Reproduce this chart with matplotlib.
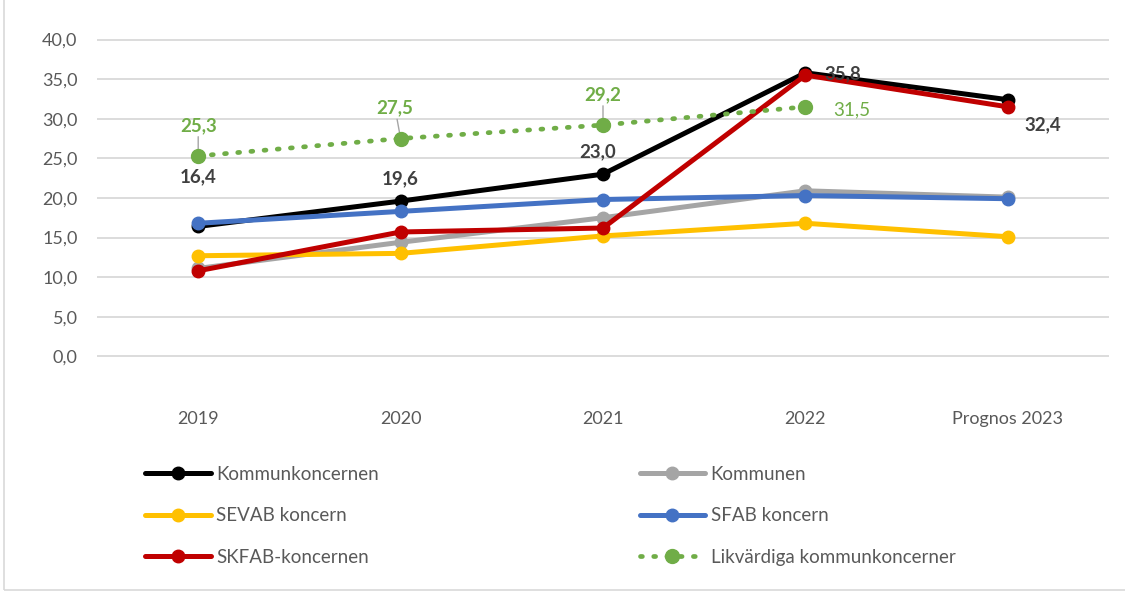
import numpy as np
import matplotlib.pyplot as plt
from matplotlib.patches import Rectangle

plt.rcParams['font.family'] = ['Lato', 'DejaVu Sans']

years = ['2019', '2020', '2021', '2022', 'Prognos 2023']

kommunkoncernen = [16.4, 19.6, 23.0, 35.8, 32.4]
kommunen = [11.1, 14.4, 17.5, 20.9, 20.1]
sevab = [12.7, 13.0, 15.2, 16.8, 15.1]
sfab = [16.8, 18.3, 19.8, 20.3, 19.9]
skfab = [10.8, 15.7, 16.2, 35.5, 31.5]
likvardiga = [25.3, 27.5, 29.2, 31.5]

names = ['Kommunkoncernen', 'Kommunen', 'SEVAB koncern', 'SFAB koncern',
         'SKFAB-koncernen', 'Likvärdiga kommunkoncerner']
colors = ['#000000', '#a5a5a5', '#ffc000', '#4472c4', '#c00000', '#70ad47']

fig = plt.figure(figsize=(11.25, 5.94), dpi=100)
ax = fig.add_axes([97/1125, 1 - 430/594, 1012/1125, (430 - 30)/594])

x = np.arange(len(years))
series = [kommunkoncernen, kommunen, sevab, sfab, skfab]
handles = []
for vals, c, n in zip(series, colors[:5], names[:5]):
    h, = ax.plot(x, vals, color=c, lw=3.6, marker='o', ms=9, label=n,
                 solid_capstyle='round', zorder=3)
    handles.append(h)
h, = ax.plot(x[:len(likvardiga)], likvardiga, color=colors[5], lw=3.4,
             ls=(0, (0.4, 2.4)), dash_capstyle='round', marker='o', ms=10,
             label=names[5], zorder=4)
handles.append(h)

ax.set_xlim(-0.5, 4.5)
ax.set_ylim(-9.3, 41.2)
ax.set_yticks(np.arange(0, 41, 5))
ax.set_yticklabels([f'{v:.1f}'.replace('.', ',') for v in np.arange(0, 41, 5)])
ax.set_xticks(x)
ax.set_xticklabels(years)
ax.tick_params(axis='both', length=0, labelsize=13, colors='#595959')
ax.tick_params(axis='x', pad=-14)
ax.tick_params(axis='y', pad=14)
for v in np.arange(0, 41, 5):
    ax.axhline(v, color='#d9d9d9', lw=1.3, zorder=1)
for s in ax.spines.values():
    s.set_visible(False)

# data labels for Kommunkoncernen
dark = '#404040'
lbl = dict(fontsize=13.5, fontweight='bold', color=dark)
ax.annotate('16,4', (0, 16.4), xytext=(0, 32), textcoords='offset points', ha='center', **lbl)
ax.annotate('19,6', (1, 19.6), xytext=(0, 12), textcoords='offset points', ha='center', **lbl)
ax.annotate('23,0', (2, 23.0), xytext=(-4, 12), textcoords='offset points', ha='center', **lbl)
ax.annotate('35,8', (3, 35.8), xytext=(14, -5), textcoords='offset points', ha='left', **lbl)
ax.annotate('32,4', (4, 32.4), xytext=(12, -22), textcoords='offset points', ha='left', **lbl)

green = '#70ad47'
glbl = dict(fontsize=13.5, fontweight='bold', color=green, ha='center')
ax.annotate('25,3', (0, 25.3), xytext=(0, 18), textcoords='offset points',
            arrowprops=dict(arrowstyle='-', color='#a5a5a5', lw=1, shrinkA=0, shrinkB=4), **glbl)
ax.annotate('27,5', (1, 27.5), xytext=(-4, 18), textcoords='offset points',
            arrowprops=dict(arrowstyle='-', color='#a5a5a5', lw=1, shrinkA=0, shrinkB=4), **glbl)
ax.annotate('29,2', (2, 29.2), xytext=(0, 18), textcoords='offset points',
            arrowprops=dict(arrowstyle='-', color='#a5a5a5', lw=1, shrinkA=0, shrinkB=4), **glbl)
ax.annotate('31,5', (3, 31.5), xytext=(20, -6), textcoords='offset points',
            fontsize=13.5, color=green, ha='left')

order = [0, 2, 4, 1, 3, 5]
fig.legend([handles[i] for i in order], [names[i] for i in order],
           loc='upper left', bbox_to_anchor=(128/1125, 1 - 449/594), ncol=2,
           frameon=False, fontsize=13.5, labelcolor='#595959', handlelength=3.5,
           handletextpad=0.3, columnspacing=13.9, labelspacing=1.3)

fig.patches.append(Rectangle((4/1125, 4/594), 1, 1.1, transform=fig.transFigure,
                             fill=False, edgecolor='#d9d9d9', lw=1.2))

fig.savefig('out.png', dpi=100)
